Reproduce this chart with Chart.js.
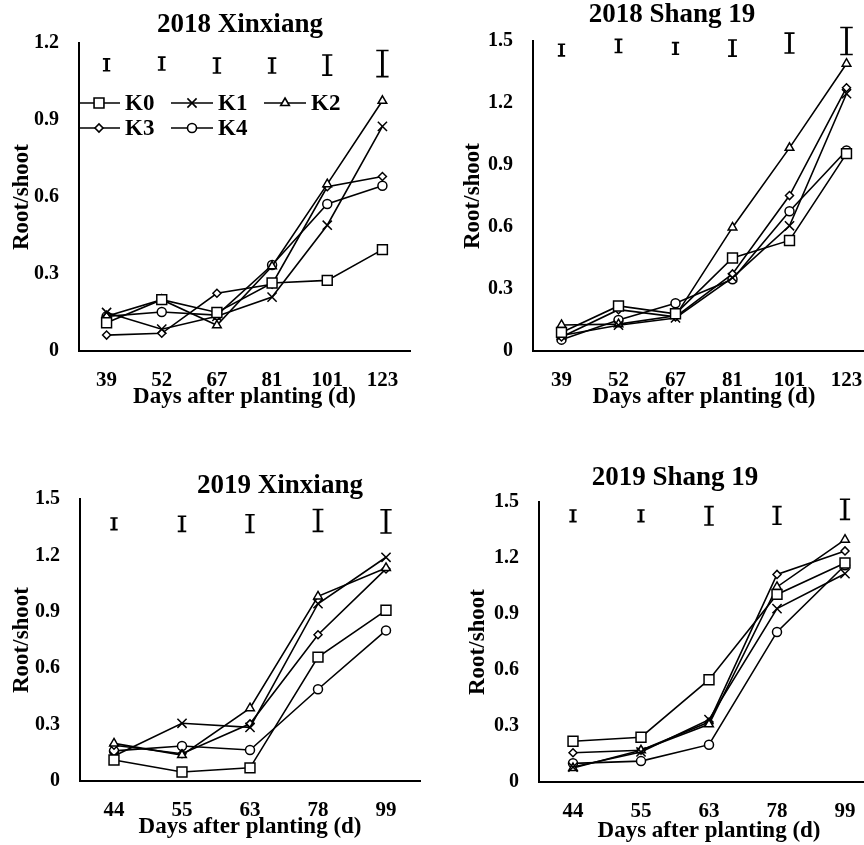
<!DOCTYPE html>
<html>
<head>
<meta charset="utf-8">
<title>Root/shoot ratio</title>
<script src="https://cdn.jsdelivr.net/npm/chart.js@4.4.1/dist/chart.umd.min.js"></script>
<style>
  html, body { margin: 0; padding: 0; background: #fff; overflow: hidden; }
  body { width: 864px; height: 845px; position: relative; }
  canvas { position: absolute; }
</style>
</head>
<body>
<canvas id="p1" width="432" height="422" style="left:0;top:0"></canvas>
<canvas id="p2" width="460" height="422" style="left:432px;top:0"></canvas>
<canvas id="p3" width="432" height="405" style="left:0;top:440px"></canvas>
<canvas id="p4" width="460" height="405" style="left:432px;top:440px"></canvas>
<script>
/* ---------- Data ---------- */
const series = ['K0', 'K1', 'K2', 'K3', 'K4'];
const days2018 = ['39', '52', '67', '81', '101', '123'];
const days2019 = ['44', '55', '63', '78', '99'];
const yTicksLow = [0, 0.3, 0.6, 0.9, 1.2];
const yTicksHigh = [0, 0.3, 0.6, 0.9, 1.2, 1.5];

// 2018 Xinxiang
const x18K0 = [0.11, 0.20, 0.15, 0.265, 0.275, 0.395];
const x18K1 = [0.15, 0.085, 0.135, 0.21, 0.49, 0.875];
const x18K2 = [0.135, 0.20, 0.10, 0.33, 0.65, 0.975];
const x18K3 = [0.062, 0.069, 0.225, 0.26, 0.64, 0.68];
const x18K4 = [0.135, 0.152, 0.14, 0.335, 0.573, 0.644];
const x18ErrMid = [1.115, 1.12, 1.112, 1.112, 1.114, 1.12];
const x18ErrHalf = [0.023, 0.025, 0.029, 0.029, 0.039, 0.051];

// 2018 Shang 19
const s18K0 = [0.09, 0.218, 0.18, 0.45, 0.535, 0.955];
const s18K1 = [0.075, 0.125, 0.16, 0.355, 0.606, 1.245];
const s18K2 = [0.126, 0.13, 0.17, 0.598, 0.983, 1.39];
const s18K3 = [0.068, 0.2, 0.165, 0.373, 0.752, 1.274];
const s18K4 = [0.055, 0.15, 0.231, 0.347, 0.676, 0.97];
const s18ErrMid = [1.456, 1.476, 1.464, 1.466, 1.49, 1.5];
const s18ErrHalf = [0.028, 0.032, 0.028, 0.039, 0.048, 0.065];

// 2019 Xinxiang
const x19K0 = [0.112, 0.048, 0.07, 0.659, 0.908];
const x19K1 = [0.133, 0.307, 0.285, 0.943, 1.19];
const x19K2 = [0.2, 0.138, 0.387, 0.982, 1.133];
const x19K3 = [0.19, 0.145, 0.304, 0.778, 1.128];
const x19K4 = [0.16, 0.186, 0.165, 0.488, 0.801];
const x19ErrMid = [1.368, 1.368, 1.369, 1.386, 1.381];
const x19ErrHalf = [0.031, 0.04, 0.047, 0.058, 0.062];

// 2019 Shang 19
const s19K0 = [0.218, 0.24, 0.548, 1.005, 1.173];
const s19K1 = [0.08, 0.161, 0.334, 0.929, 1.116];
const s19K2 = [0.075, 0.17, 0.309, 1.045, 1.298];
const s19K3 = [0.157, 0.17, 0.321, 1.112, 1.238];
const s19K4 = [0.1, 0.112, 0.2, 0.804, 1.161];
const s19ErrMid = [1.426, 1.426, 1.426, 1.428, 1.461];
const s19ErrHalf = [0.031, 0.031, 0.049, 0.047, 0.054];

/* ---------- Style ---------- */
const FONT = "'Liberation Serif', 'Times New Roman', serif";
const MARKERS = [
  { style: 'rect', radius: 7 },
  { style: 'crossRot', radius: 6.5 },
  { style: 'triangle', radius: 5 },
  { style: 'rectRot', radius: 4 },
  { style: 'circle', radius: 4.5 }
];

Chart.defaults.font.family = FONT;
Chart.defaults.font.weight = 'bold';
Chart.defaults.color = '#000';

function makeDatasets(values) {
  return values.map((data, i) => ({
    label: series[i],
    data: data,
    borderColor: '#000',
    borderWidth: 1.6,
    pointStyle: MARKERS[i].style,
    pointRadius: MARKERS[i].radius,
    pointHoverRadius: MARKERS[i].radius,
    pointBorderColor: '#000',
    pointBackgroundColor: '#fff',
    pointBorderWidth: 1.5,
    tension: 0
  }));
}

/* ---------- Plugins ---------- */
function panelTitle(text, x, y) {
  return {
    id: 'panelTitle',
    afterDraw(chart) {
      const ctx = chart.ctx;
      ctx.save();
      ctx.font = 'bold 27px ' + FONT;
      ctx.fillStyle = '#000';
      ctx.textAlign = 'center';
      ctx.textBaseline = 'alphabetic';
      ctx.fillText(text, x, y);
      ctx.restore();
    }
  };
}

// LSD-style bars drawn above the curves
function errorBars(mid, half) {
  return {
    id: 'errorBars',
    afterDatasetsDraw(chart) {
      const { ctx, scales: { x, y } } = chart;
      ctx.save();
      ctx.strokeStyle = '#000';
      mid.forEach((m, i) => {
        const px = x.getPixelForValue(i);
        const top = y.getPixelForValue(m + half[i]);
        const bot = y.getPixelForValue(m - half[i]);
        const cap = 1.7 + (bot - top) * 0.17;
        ctx.lineWidth = 2.8;
        ctx.beginPath();
        ctx.moveTo(px, top);
        ctx.lineTo(px, bot);
        ctx.stroke();
        ctx.lineWidth = 1.6;
        ctx.beginPath();
        ctx.moveTo(px - cap, top);
        ctx.lineTo(px + cap, top);
        ctx.moveTo(px - cap, bot);
        ctx.lineTo(px + cap, bot);
        ctx.stroke();
      });
      ctx.restore();
    }
  };
}

// legend with a short line through each marker (Excel style)
const lineLegend = {
  id: 'lineLegend',
  afterDraw(chart) {
    const ctx = chart.ctx;
    const x0 = 78, y0 = 103, colW = 93, rowH = 25, lineLen = 42, perRow = 3;
    ctx.save();
    chart.data.datasets.forEach((ds, i) => {
      const x = x0 + (i % perRow) * colW;
      const y = y0 + Math.floor(i / perRow) * rowH;
      ctx.strokeStyle = '#000';
      ctx.lineWidth = 1.6;
      ctx.beginPath();
      ctx.moveTo(x, y);
      ctx.lineTo(x + lineLen, y);
      ctx.stroke();
      ctx.fillStyle = '#fff';
      Chart.helpers.drawPoint(ctx, {
        pointStyle: ds.pointStyle,
        radius: ds.pointRadius,
        rotation: 0,
        borderWidth: 1.5
      }, x + lineLen / 2, y);
      ctx.fillStyle = '#000';
      ctx.font = 'bold 23px ' + FONT;
      ctx.textAlign = 'left';
      ctx.textBaseline = 'middle';
      ctx.fillText(ds.label, x + lineLen + 5, y + 1);
    });
    ctx.restore();
  }
};

/* ---------- Panels ---------- */
function createPanel(canvasId, cfg) {
  const ctx = document.getElementById(canvasId);
  const plugins = [panelTitle(cfg.title, cfg.titleX, cfg.titleY), errorBars(cfg.errMid, cfg.errHalf)];
  if (cfg.legend) plugins.push(lineLegend);

  return new Chart(ctx, {
    type: 'line',
    data: {
      labels: cfg.labels,
      datasets: makeDatasets(cfg.values)
    },
    plugins: plugins,
    options: {
      responsive: false,
      animation: false,
      events: [],
      layout: { padding: cfg.padding },
      plugins: {
        legend: { display: false },
        tooltip: { enabled: false }
      },
      scales: {
        x: {
          type: 'category',
          offset: true,
          afterFit: s => { s.height = cfg.xHeight; },
          grid: { display: false, drawTicks: false, tickLength: 0 },
          border: { display: true, color: '#000', width: 2 },
          ticks: { padding: 17, autoSkip: false, maxRotation: 0, font: { size: 21, weight: 'bold' } },
          title: {
            display: true,
            text: 'Days after planting (d)',
            font: { size: 23, weight: 'bold' },
            padding: { top: 0, bottom: cfg.xTitlePad }
          }
        },
        y: {
          min: 0,
          max: cfg.yTicks[cfg.yTicks.length - 1],
          afterBuildTicks: s => { s.ticks = cfg.yTicks.map(v => ({ value: v })); },
          afterFit: s => { s.width = cfg.yWidth; },
          grid: { display: false, drawTicks: false, tickLength: 0 },
          border: { display: true, color: '#000', width: 2 },
          ticks: { padding: 20, callback: v => String(v), font: { size: 20, weight: 'bold' } },
          title: {
            display: true,
            text: 'Root/shoot',
            font: { size: 23, weight: 'bold' },
            padding: { top: cfg.yTitlePad, bottom: 0 }
          }
        }
      }
    }
  });
}

createPanel('p1', {
  title: '2018 Xinxiang', titleX: 240, titleY: 32,
  labels: days2018, values: [x18K0, x18K1, x18K2, x18K3, x18K4],
  yTicks: yTicksLow, errMid: x18ErrMid, errHalf: x18ErrHalf,
  padding: { top: 43, right: 22, left: 0, bottom: 0 },
  yWidth: 79, xHeight: 71, yTitlePad: 8, xTitlePad: 11, legend: true
});

createPanel('p2', {
  title: '2018 Shang 19', titleX: 240, titleY: 22,
  labels: days2018, values: [s18K0, s18K1, s18K2, s18K3, s18K4],
  yTicks: yTicksHigh, errMid: s18ErrMid, errHalf: s18ErrHalf,
  padding: { top: 41, right: 17, left: 0, bottom: 0 },
  yWidth: 101, xHeight: 71, yTitlePad: 27, xTitlePad: 11
});

createPanel('p3', {
  title: '2019 Xinxiang', titleX: 280, titleY: 53,
  labels: days2019, values: [x19K0, x19K1, x19K2, x19K3, x19K4],
  yTicks: yTicksHigh, errMid: x19ErrMid, errHalf: x19ErrHalf,
  padding: { top: 59, right: 12, left: 0, bottom: 0 },
  yWidth: 80, xHeight: 64, yTitlePad: 8, xTitlePad: 4
});

createPanel('p4', {
  title: '2019 Shang 19', titleX: 243, titleY: 45,
  labels: days2019, values: [s19K0, s19K1, s19K2, s19K3, s19K4],
  yTicks: yTicksHigh, errMid: s19ErrMid, errHalf: s19ErrHalf,
  padding: { top: 62, right: 13, left: 0, bottom: 0 },
  yWidth: 107, xHeight: 63, yTitlePad: 32, xTitlePad: 0
});
</script>
</body>
</html>
